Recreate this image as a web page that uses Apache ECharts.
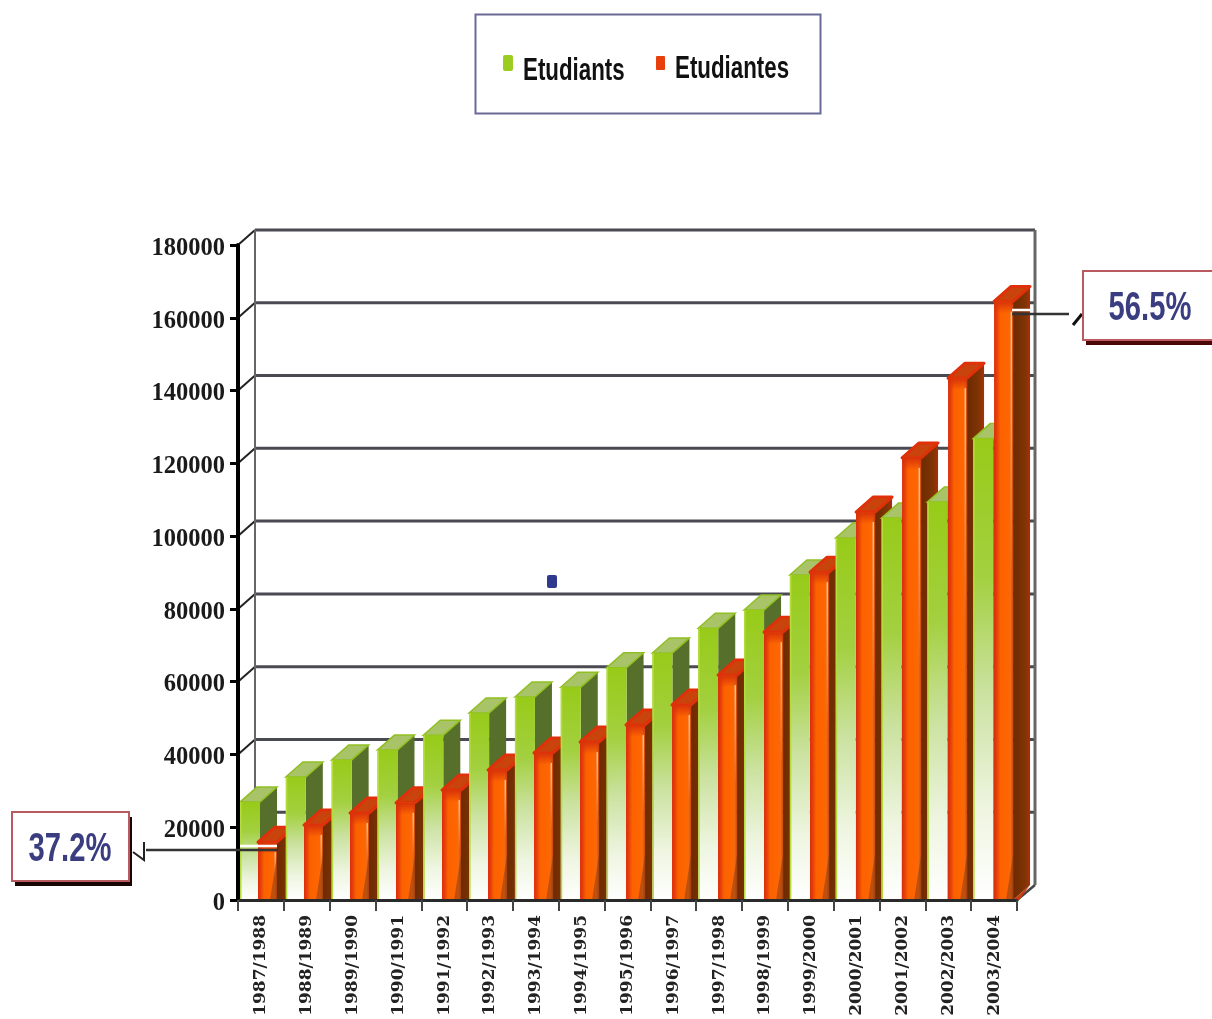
<!DOCTYPE html>
<html>
<head>
<meta charset="utf-8">
<style>html,body{margin:0;padding:0;background:#fff}#chart{width:1212px;height:1019px}</style>
<script src="https://cdn.jsdelivr.net/npm/echarts@6/dist/echarts.min.js"></script>
</head>
<body>
<div id="chart"></div>
<script>
// Student enrolment by academic year, split by sex
const categories = ['1987/1988','1988/1989','1989/1990','1990/1991','1991/1992','1992/1993','1993/1994','1994/1995','1995/1996','1996/1997','1997/1998','1998/1999','1999/2000','2000/2001','2001/2002','2002/2003','2003/2004'];
const etudiants = [26900,33800,38500,41200,45300,51400,55800,58500,63800,67900,74700,79700,89300,99500,105000,109400,126800];
const etudiantes = [15900,20600,23900,26700,30200,35700,40400,43400,48100,53600,61800,73600,90100,106600,121500,143400,164500];
const yTicks = [0,20000,40000,60000,80000,100000,120000,140000,160000,180000];
const firstShare = '37.2%';
const lastShare = '56.5%';
const seriesNames = ['Etudiants','Etudiantes'];

// Pseudo-3D projection of the box and the bars
const DEPTH_X = 17, DEPTH_Y = 15;
const GREEN = '#9ccc20', RED = '#e8400c';
const LG = echarts.graphic.LinearGradient;

const greenFront = new LG(0,0,0,1,[
  {offset:0,color:'#97cb18'},{offset:.3,color:'#a3d040'},{offset:.55,color:'#cbe2a0'},
  {offset:.8,color:'#eef5e0'},{offset:1,color:'#ffffff'}]);
const orangeFront = new LG(0,0,1,0,[
  {offset:0,color:'#dc2c0a'},{offset:.16,color:'#e8420a'},{offset:.32,color:'#fb6200'},
  {offset:.74,color:'#ff6600'},{offset:.88,color:'#f06a14'},{offset:1,color:'#c84a08'}]);
const orangeCap = new LG(0,0,0,1,[
  {offset:0,color:'rgba(216,50,10,1)'},{offset:1,color:'rgba(216,50,10,0)'}]);
const orangeGlint = new LG(0,0,0,1,[
  {offset:0,color:'rgba(255,200,150,.9)'},{offset:1,color:'rgba(255,200,150,0)'}]);
const orangeSide = new LG(0,0,1,0,[
  {offset:0,color:'#6e2a02'},{offset:.7,color:'#7f3404'},{offset:1,color:'#a8300a'}]);

function barGeometry(api, leftInset, width) {
  const base = api.coord([api.value(0), 0]);
  const top = api.coord([api.value(0), api.value(1)]);
  const band = api.size([1, 0])[0];
  const x = base[0] - band / 2 + leftInset;
  return {x, w: width, top: top[1], base: base[1]};
}

function renderGreen(params, api) {
  const g = barGeometry(api, 2, 20);
  const z2 = params.dataIndex * 2;
  const r = g.x + g.w, t = g.top, b = g.base;
  return {type:'group', children:[
    {type:'polygon', z2, shape:{points:[[r,t],[r+DEPTH_X,t-DEPTH_Y],[r+DEPTH_X,b-DEPTH_Y],[r,b]]}, style:{fill:'#566f2a'}},
    {type:'polygon', z2, shape:{points:[[g.x,t],[r,t],[r+DEPTH_X,t-DEPTH_Y],[g.x+DEPTH_X,t-DEPTH_Y]]}, style:{fill:'#a9c468', stroke:'#90c020', lineWidth:1.5}},
    {type:'rect', z2, shape:{x:g.x,y:t,width:g.w,height:b-t}, style:{fill:greenFront}},
    {type:'rect', z2, shape:{x:g.x,y:t,width:1.5,height:b-t}, style:{fill:'#b4dc3c'}}
  ]};
}

function renderOrange(params, api) {
  const last = params.dataIndex === categories.length - 1;
  const g = barGeometry(api, 20 + params.dataIndex * 0.18, 19);
  const z2 = params.dataIndex * 2 + 1;
  const r = g.x + g.w, t = g.top, b = g.base;
  const sideBottom = last ? b - DEPTH_Y : b;
  const children = [
    {type:'polygon', z2, shape:{points:[[r,t],[r+DEPTH_X,t-DEPTH_Y],[r+DEPTH_X,sideBottom],[r,b]]}, style:{fill:orangeSide}},
    {type:'polygon', z2, shape:{points:[[g.x,t],[r,t],[r+DEPTH_X,t-DEPTH_Y],[g.x+DEPTH_X,t-DEPTH_Y]]}, style:{fill:'#c8440c', stroke:'#e0300a', lineWidth:3, lineJoin:'round'}},
    {type:'rect', z2, shape:{x:g.x,y:t,width:g.w,height:b-t}, style:{fill:orangeFront}},
    {type:'rect', z2, shape:{x:g.x,y:t,width:g.w,height:12}, style:{fill:orangeCap}},
    {type:'rect', z2, shape:{x:r-2.5,y:t+10,width:1.5,height:(b-t)*0.45}, style:{fill:orangeGlint}},
    {type:'polygon', z2, shape:{points:[[r-7,b],[r,b-45],[r,b]]}, style:{fill:'rgba(120,50,20,.45)'}}
  ];
  if (last) {
    children.unshift({type:'polygon', z2, shape:{points:[[r,b],[r+DEPTH_X,b-DEPTH_Y],[r+6,b]]}, style:{fill:'#d03a0c'}});
  }
  return {type:'group', children};
}

// Back wall: one gridline per tick, joined to the value axis by a short diagonal
function renderWall(params, api) {
  const c = params.coordSys;
  const y = api.coord([categories[0], api.value(0)])[1];
  const left = c.x, right = c.x + c.width;
  const children = [{type:'line', z2:-1, shape:{x1:left,y1:y,x2:left+DEPTH_X,y2:y-DEPTH_Y}, style:{stroke:'#222',lineWidth:2}}];
  if (api.value(0) > 0) {
    children.push({type:'line', z2:-1, shape:{x1:left+DEPTH_X,y1:y-DEPTH_Y,x2:right+DEPTH_X+1,y2:y-DEPTH_Y}, style:{stroke:'#4a4a52',lineWidth:3}});
  } else {
    children.push({type:'line', z2:-1, shape:{x1:right,y1:y,x2:right+DEPTH_X+1,y2:y-DEPTH_Y}, style:{stroke:'#444',lineWidth:2.5}});
  }
  if (params.dataIndex === yTicks.length - 1) {
    const floor = c.y + c.height - DEPTH_Y;
    children.push({type:'line', z2:-1, shape:{x1:left+DEPTH_X,y1:y-DEPTH_Y,x2:left+DEPTH_X,y2:floor}, style:{stroke:'#666',lineWidth:2}});
    children.push({type:'line', z2:-1, shape:{x1:right+DEPTH_X+1,y1:y-DEPTH_Y,x2:right+DEPTH_X+1,y2:floor}, style:{stroke:'#666',lineWidth:3}});
  }
  return {type:'group', children};
}

// Condensed sans text: horizontally squeezed Liberation Sans Bold
const SANS = '"Liberation Sans",sans-serif';
function squeezedText(text, x, y, size, scaleX, fill, align) {
  return {type:'text', z:52, x, y, scaleX,
    style:{text, fill, font:'bold '+size+'px '+SANS, textAlign:align, textVerticalAlign:'middle'}};
}
// Percentage callout box with a hard shadow
function callout(x, y, w, h, text, textX, shadow) {
  return [
    {type:'rect', z:50, shape:{x:x+3,y:y+5,width:w,height:h}, style:{fill:shadow}},
    {type:'rect', z:51, shape:{x,y,width:w,height:h}, style:{fill:'#fff',stroke:'#b85a60',lineWidth:2}},
    squeezedText(text, textX, y+h/2+3, 40, 0.73, '#3a3d80', 'center')
  ];
}
// Legend box above the plot
const legendItems = [
  {type:'rect', z:50, shape:{x:475.5,y:14.5,width:345,height:99}, style:{fill:'#fff',stroke:'#6a6a96',lineWidth:2}},
  {type:'rect', z:51, shape:{x:503,y:55,width:10,height:16,r:2}, style:{fill:GREEN}},
  squeezedText(seriesNames[0], 523, 71, 31, 0.72, '#111', 'left'),
  {type:'rect', z:51, shape:{x:656,y:56,width:9,height:14,r:1}, style:{fill:RED}},
  squeezedText(seriesNames[1], 675, 69, 31, 0.72, '#111', 'left')
];

const chart = echarts.init(document.getElementById('chart'), null, {renderer:'canvas'});
chart.setOption({
  animation:false,
  backgroundColor:'#fff',
  grid:{left:238,right:195,top:245,bottom:119},
  xAxis:{
    type:'category', data:categories, z:5,
    axisLine:{lineStyle:{color:'#2a2a2a',width:3}},
    axisTick:{show:true,length:11,lineStyle:{color:'#444',width:2}},
    axisLabel:{rotate:90,margin:15,interval:0,color:'#222',fontFamily:'"DejaVu Serif",serif',fontWeight:'bold',fontSize:17}
  },
  yAxis:{
    type:'value', min:0, max:180000, interval:20000, z:5,
    splitLine:{show:false},
    axisLine:{show:true,lineStyle:{color:'#000',width:4}},
    axisTick:{show:true,length:8,lineStyle:{color:'#000',width:3}},
    axisLabel:{margin:13,color:'#1a1a1a',fontFamily:'"Liberation Serif",serif',fontWeight:'bold',fontSize:24.5,
      verticalAlign:'top',lineHeight:7,formatter:v=>String(v)}
  },
  series:[
    {type:'custom', name:'wall', z:1, silent:true, renderItem:renderWall, clip:false,
     data:yTicks.map(v=>[v]), encode:{y:0}},
    {type:'custom', name:seriesNames[0], z:2, renderItem:renderGreen, clip:false,
     itemStyle:{color:GREEN}, data:categories.map((c,i)=>[c,etudiants[i]]), encode:{x:0,y:1}},
    {type:'custom', name:seriesNames[1], z:2, renderItem:renderOrange, clip:false,
     itemStyle:{color:RED}, data:categories.map((c,i)=>[c,etudiantes[i]]), encode:{x:0,y:1}}
  ],
  graphic:[
    ...legendItems,
    ...callout(12,812,117,69,firstShare,70,'#1a0505'),
    ...callout(1083,271,140,69,lastShare,1150,'#4a0505'),
    {type:'line', z:49, shape:{x1:146,y1:850,x2:278,y2:850}, style:{stroke:'#333',lineWidth:2.5}},
    {type:'line', z:49, shape:{x1:240,y1:846,x2:277,y2:846}, style:{stroke:'#fff',lineWidth:2.5}},
    {type:'polyline', z:49, shape:{points:[[144,842],[144,860],[133,852]]}, style:{stroke:'#222',lineWidth:2,fill:null}},
    {type:'line', z:49, shape:{x1:1012,y1:314,x2:1069,y2:314}, style:{stroke:'#333',lineWidth:2.5}},
    {type:'line', z:49, shape:{x1:1012,y1:310,x2:1030,y2:310}, style:{stroke:'#fff',lineWidth:2.5}},
    {type:'line', z:49, shape:{x1:1073,y1:325,x2:1082,y2:314}, style:{stroke:'#111',lineWidth:3}},
    {type:'rect', z:49, shape:{x:547,y:575,width:10,height:13,r:2}, style:{fill:'#2f3a8f'}}
  ]
});
</script>
</body>
</html>
